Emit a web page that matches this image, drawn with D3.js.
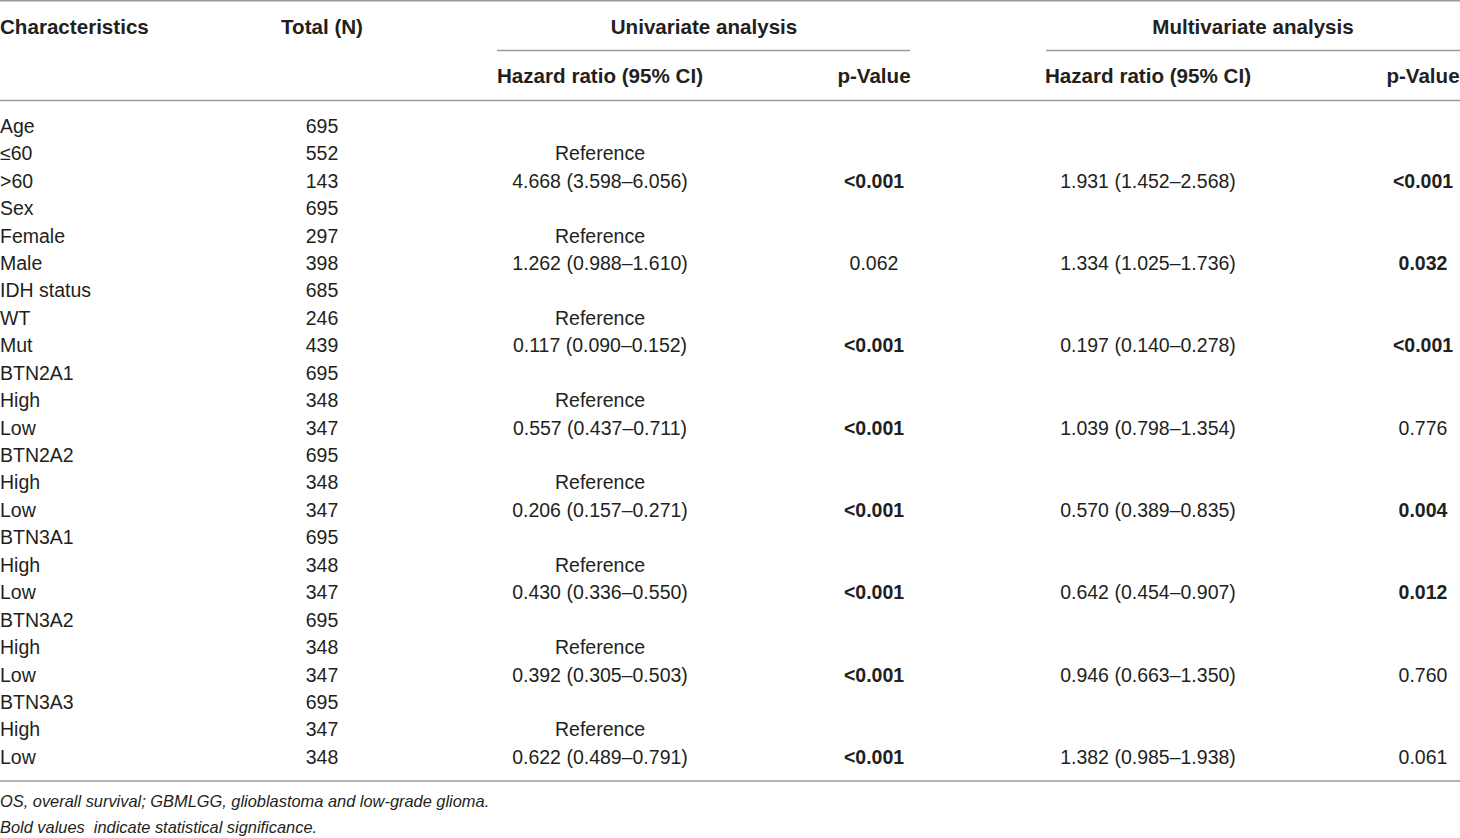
<!DOCTYPE html>
<html lang="en">
<head>
<meta charset="utf-8">
<title>Cox regression table</title>
<script src="https://cdn.jsdelivr.net/npm/d3@7"></script>
<style>
  body { margin: 0; background: #fff; }
  svg text { font-family: "Liberation Sans", Arial, sans-serif; fill: #231f20; }
  svg text.foot { white-space: pre; }
</style>
</head>
<body>
<script>
// table content
var characteristics = ["Age", "\u226460", ">60", "Sex", "Female", "Male", "IDH status", "WT", "Mut",
  "BTN2A1", "High", "Low", "BTN2A2", "High", "Low", "BTN3A1", "High", "Low",
  "BTN3A2", "High", "Low", "BTN3A3", "High", "Low"];
var totals = [695, 552, 143, 695, 297, 398, 685, 246, 439, 695, 348, 347, 695, 348, 347,
  695, 348, 347, 695, 348, 347, 695, 347, 348];
var uniHR = ["", "Reference", "4.668 (3.598\u20136.056)", "", "Reference", "1.262 (0.988\u20131.610)",
  "", "Reference", "0.117 (0.090\u20130.152)", "", "Reference", "0.557 (0.437\u20130.711)",
  "", "Reference", "0.206 (0.157\u20130.271)", "", "Reference", "0.430 (0.336\u20130.550)",
  "", "Reference", "0.392 (0.305\u20130.503)", "", "Reference", "0.622 (0.489\u20130.791)"];
var uniP = ["", "", "<0.001", "", "", "0.062", "", "", "<0.001", "", "", "<0.001",
  "", "", "<0.001", "", "", "<0.001", "", "", "<0.001", "", "", "<0.001"];
var multiHR = ["", "", "1.931 (1.452\u20132.568)", "", "", "1.334 (1.025\u20131.736)",
  "", "", "0.197 (0.140\u20130.278)", "", "", "1.039 (0.798\u20131.354)",
  "", "", "0.570 (0.389\u20130.835)", "", "", "0.642 (0.454\u20130.907)",
  "", "", "0.946 (0.663\u20131.350)", "", "", "1.382 (0.985\u20131.938)"];
var multiP = ["", "", "<0.001", "", "", "0.032", "", "", "<0.001", "", "", "0.776",
  "", "", "0.004", "", "", "0.012", "", "", "0.760", "", "", "0.061"];
var footnotes = ["OS, overall survival; GBMLGG, glioblastoma and low-grade glioma.",
  "Bold values  indicate statistical significance."];

var W = 1460, H = 838, fs = 19.5, headFs = 20.6;
var svg = d3.select("body").append("svg").attr("width", W).attr("height", H);

// column layout
var cols = [
  { key: "char", x: 0, anchor: "start", head: "Characteristics", vals: characteristics },
  { key: "total", x: 322, anchor: "middle", head: "Total (N)", vals: totals },
  { key: "uhr", x: 600, anchor: "middle", head: "Hazard ratio (95% CI)", vals: uniHR },
  { key: "up", x: 874, anchor: "middle", head: "p-Value", vals: uniP },
  { key: "mhr", x: 1148, anchor: "middle", head: "Hazard ratio (95% CI)", vals: multiHR },
  { key: "mp", x: 1423, anchor: "middle", head: "p-Value", vals: multiP }
];

var y = d3.scalePoint().domain(d3.range(characteristics.length)).range([126, 757]);

function isSig(v) {
  if (v === "") return false;
  if (v.charAt(0) === "<") return true;
  return parseFloat(v) < 0.05;
}

function hline(x1, x2, yy) {
  svg.append("line").attr("x1", x1).attr("x2", x2).attr("y1", yy).attr("y2", yy)
    .attr("stroke", "#9a9a9a").attr("stroke-width", 1.5);
}
hline(0, W, 0.75);
hline(497, 910, 50.5);
hline(1046, W, 50.5);
hline(0, W, 100.5);
hline(0, W, 781);

// group headings
svg.selectAll("text.group")
  .data([{ t: "Univariate analysis", x: 704 }, { t: "Multivariate analysis", x: 1253 }])
  .enter().append("text").attr("class", "group")
  .attr("x", function(d) { return d.x; }).attr("y", 27).attr("dy", "0.35em")
  .attr("text-anchor", "middle").attr("font-weight", "bold").attr("font-size", headFs)
  .text(function(d) { return d.t; });

// column headings
svg.selectAll("text.head")
  .data(cols).enter().append("text").attr("class", "head")
  .attr("x", function(d) { return d.x; })
  .attr("y", function(d, i) { return i < 2 ? 27 : 76; })
  .attr("dy", "0.35em")
  .attr("text-anchor", function(d) { return d.anchor; })
  .attr("font-weight", "bold").attr("font-size", headFs)
  .text(function(d) { return d.head; });

// body cells
cols.forEach(function(c) {
  svg.append("g").selectAll("text")
    .data(c.vals).enter().append("text")
    .attr("x", c.x).attr("y", function(d, i) { return y(i); }).attr("dy", "0.35em")
    .attr("text-anchor", c.anchor).attr("font-size", fs)
    .attr("font-weight", function(d) {
      return (c.key === "up" || c.key === "mp") && isSig(d) ? "bold" : "normal";
    })
    .text(function(d) { return d; });
});

// footnotes
svg.selectAll("text.foot")
  .data(footnotes).enter().append("text").attr("class", "foot")
  .attr("x", 0).attr("y", function(d, i) { return 801 + i * 26; }).attr("dy", "0.35em")
  .attr("font-style", "italic").attr("font-size", 16.4)
  .text(function(d) { return d; });
</script>
</body>
</html>
